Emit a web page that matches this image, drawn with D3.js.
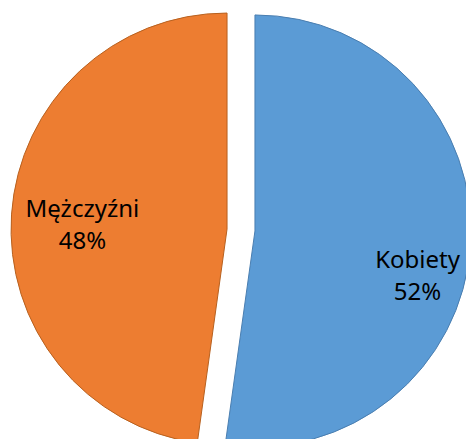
<!DOCTYPE html>
<html>
<head>
<meta charset="utf-8">
<script src="https://cdn.jsdelivr.net/npm/d3@7"></script>
<style>
  html, body { margin: 0; padding: 0; background: #fff; }
  svg { display: block; overflow: hidden; }
</style>
</head>
<body>
<div id="chart"></div>
<script>
// Płeć respondentów - wykres kołowy z rozsuniętymi wycinkami
const categories = ['Kobiety', 'Mężczyźni'];
const values = [52.2, 47.8];
const colors = ['#5B9BD5', '#ED7D31'];
const strokes = ['#4A7EB0', '#B8611F'];

const width = 466, height = 439;
const cx = 241, cy = 230, radius = 216, explode = 14;

const svg = d3.select('#chart')
  .append('svg')
  .attr('width', width)
  .attr('height', height);

const pie = d3.pie().sort(null).value(d => d.value);
const arcs = pie(categories.map((c, i) => ({ name: c, value: values[i], i })));
const total = d3.sum(values);

const arc = d3.arc().innerRadius(0).outerRadius(radius);

// przesunięcie etykiet (Excel "najlepsze dopasowanie")
const labelR = [163, 145];
const labelNudge = [[0, 32], [0, 4]];

const slice = svg.selectAll('g.slice')
  .data(arcs)
  .join('g')
  .attr('class', 'slice')
  .attr('transform', d => {
    const mid = (d.startAngle + d.endAngle) / 2;
    const x = cx + Math.sin(mid) * explode;
    const y = cy - Math.cos(mid) * explode;
    return `translate(${x},${y})`;
  });

slice.append('path')
  .attr('d', arc)
  .attr('fill', d => colors[d.data.i])
  .attr('stroke', d => strokes[d.data.i])
  .attr('stroke-width', 1);

const label = slice.append('text')
  .attr('text-anchor', 'middle')
  .attr('font-family', '"Noto Sans", sans-serif')
  .attr('font-size', 24)
  .attr('fill', '#000')
  .attr('transform', d => {
    const mid = (d.startAngle + d.endAngle) / 2;
    const r = labelR[d.data.i];
    const n = labelNudge[d.data.i];
    return `translate(${Math.sin(mid) * r + n[0]},${-Math.cos(mid) * r + n[1]})`;
  });

label.append('tspan')
  .attr('x', 0)
  .attr('dy', '-0.25em')
  .text(d => d.data.name);

label.append('tspan')
  .attr('x', 0)
  .attr('dy', '1.33em')
  .text(d => Math.round(d.data.value / total * 100) + '%');
</script>
</body>
</html>
